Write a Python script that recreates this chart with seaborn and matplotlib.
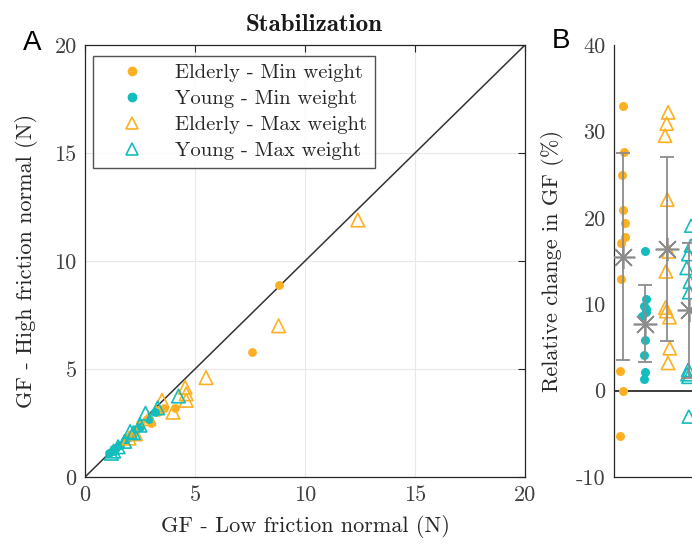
import numpy as np
import pandas as pd
import matplotlib
matplotlib.use("Agg")
import matplotlib.pyplot as plt
from matplotlib.lines import Line2D
import seaborn as sns

groups = ["Elderly - Min weight", "Young - Min weight",
          "Elderly - Max weight", "Young - Max weight"]

# Grip force (N): low friction vs high friction surface
elderly_min_low = [8.8, 7.6, 4.1, 3.6, 3.3, 3.0, 2.8, 2.5, 2.2, 1.9, 1.6]
elderly_min_high = [8.9, 5.8, 3.2, 3.2, 3.0, 2.5, 2.7, 2.5, 2.0, 1.8, 1.5]
young_min_low = [1.1, 1.3, 1.4, 1.6, 1.8, 2.0, 2.3, 2.5, 2.9, 3.2]
young_min_high = [1.1, 1.2, 1.35, 1.5, 1.7, 1.85, 2.2, 2.3, 2.7, 3.0]
elderly_max_low = [12.4, 8.8, 5.5, 4.55, 4.6, 4.6, 3.5, 4.0, 2.9, 2.3, 2.0]
elderly_max_high = [11.9, 7.0, 4.6, 4.15, 3.85, 3.55, 3.55, 3.0, 2.7, 2.0, 1.8]
young_max_low = [4.25, 3.3, 2.75, 2.5, 2.05, 2.2, 1.8, 1.5, 1.3, 1.2]
young_max_high = [3.75, 3.2, 2.95, 2.4, 2.1, 2.05, 1.65, 1.4, 1.2, 1.1]

# Relative change in grip force (%)
elderly_min_change = [32.9, 27.6, 24.9, 20.9, 19.4, 17.8, 17.1, 12.9, 2.3, 0.0, -5.2]
young_min_change = [16.2, 10.6, 9.8, 9.5, 9.1, 8.6, 5.9, 4.1, 2.1, 1.3]
elderly_max_change = [32.2, 30.9, 29.5, 22.1, 16.1, 13.8, 9.6, 9.2, 8.5, 4.9, 3.2]
young_max_change = [19.1, 16.8, 15.8, 14.2, 12.6, 11.4, 2.4, 1.9, 1.6, -3.0]

xticks_a = [0, 5, 10, 15, 20]
yticks_b = [-10, 0, 10, 20, 30, 40]

ORANGE = "#FDB022"
CYAN = "#14BDBD"
GRAY = "#8C8C8C"

sns.set_theme(style="white")
plt.rcParams["font.family"] = ["cmr10", "DejaVu Serif"]
plt.rcParams["axes.unicode_minus"] = False
plt.rcParams["axes.formatter.use_mathtext"] = False

FS = 16

fig = plt.figure(figsize=(6.92, 5.44), dpi=100)
W, H = 692.0, 544.0
axA = fig.add_axes([85 / W, 67 / H, 440 / W, 432 / H])
axB = fig.add_axes([614 / W, 67 / H, 176 / W, 432 / H])

# ---- Panel A: high vs low friction grip force ----
series = [
    (elderly_min_low, elderly_min_high, ORANGE, "o", True),
    (young_min_low, young_min_high, CYAN, "o", True),
    (elderly_max_low, elderly_max_high, ORANGE, "^", False),
    (young_max_low, young_max_high, CYAN, "^", False),
]
axA.plot([0, 20], [0, 20], color="#333333", lw=1.1, zorder=1)
for (lo, hi, col, mk, filled), name in zip(series, groups):
    df = pd.DataFrame({"low": lo, "high": hi})
    n0 = len(axA.collections)
    if filled:
        sns.scatterplot(data=df, x="low", y="high", ax=axA, color=col,
                        marker=mk, s=40, linewidth=0, zorder=3)
    else:
        sns.scatterplot(data=df, x="low", y="high", ax=axA, color=col,
                        marker=mk, s=95, linewidth=1.2, zorder=3)
        for coll in axA.collections[n0:]:
            coll.set_facecolor("none")
            coll.set_edgecolor(col)

axA.set_xlim(0, 20)
axA.set_ylim(0, 20)
axA.set_xticks(xticks_a)
axA.set_yticks(xticks_a)
axA.grid(True, color="#E8E8E8", lw=0.8)
axA.set_axisbelow(True)
for sp in axA.spines.values():
    sp.set_visible(True)
    sp.set_color("#262626")
    sp.set_linewidth(0.9)
axA.tick_params(direction="in", length=5, width=0.8, colors="#262626",
                labelsize=FS, top=True, right=True, labelcolor="#404040",
                pad=6)
axA.set_xlabel("GF - Low friction normal (N)", fontsize=FS, color="#262626", labelpad=7)
axA.set_ylabel("GF - High friction normal (N)", fontsize=FS, color="#262626", labelpad=12)
axA.set_title("Stabilization", fontfamily="cmb10", fontsize=18, pad=10,
              color="#1a1a1a", x=0.52)

handles = [
    Line2D([], [], ls="none", marker="o", ms=6, mfc=ORANGE, mec=ORANGE),
    Line2D([], [], ls="none", marker="o", ms=6, mfc=CYAN, mec=CYAN),
    Line2D([], [], ls="none", marker="^", ms=8.5, mfc="none", mec=ORANGE, mew=1.2),
    Line2D([], [], ls="none", marker="^", ms=8.5, mfc="none", mec=CYAN, mew=1.2),
]
leg = axA.legend(handles, groups, loc="upper left", bbox_to_anchor=(0.018, 0.975),
                 borderaxespad=0, fontsize=14.8, frameon=True, fancybox=False,
                 handlelength=3.0, handletextpad=0.6, borderpad=0.4,
                 labelspacing=0.36)
leg.get_frame().set_edgecolor("#262626")
leg.get_frame().set_linewidth(1.0)
for t in leg.get_texts():
    t.set_color("#262626")

# ---- Panel B: relative change per participant, mean +/- SD ----
changes = [elderly_min_change, young_min_change, elderly_max_change, young_max_change]
long = pd.concat(
    [pd.DataFrame({"group": g, "change": v}) for g, v in zip(groups, changes)],
    ignore_index=True)

axB.axhline(0, color="#1a1a1a", lw=1.2, zorder=1)
np.random.seed(3)
for i, (g, col, mk, filled) in enumerate(zip(groups, [ORANGE, CYAN, ORANGE, CYAN],
                                             ["o", "o", "^", "^"],
                                             [True, True, False, False])):
    sub = long[long["group"] == g]
    n0 = len(axB.collections)
    if filled:
        sns.stripplot(data=sub, x="group", y="change", order=groups, ax=axB,
                      color=col, marker=mk, size=6.5, linewidth=0, jitter=0.13,
                      zorder=3)
    else:
        sns.stripplot(data=sub, x="group", y="change", order=groups, ax=axB,
                      color=col, marker=mk, size=9.5, linewidth=1.2, jitter=0.13,
                      zorder=3)
        for coll in axB.collections[n0:]:
            coll.set_facecolor("none")
            coll.set_edgecolor(col)

means = [np.mean(v) for v in changes]
sds = [np.std(v, ddof=1) for v in changes]
pos = np.arange(len(groups))
axB.errorbar(pos, means, yerr=sds, fmt="none", ecolor=GRAY, elinewidth=1.3,
             capsize=5, capthick=1.3, zorder=4)
axB.plot(pos, means, ls="none", marker=(8, 2, 0), ms=17, mec=GRAY, mew=1.2,
         zorder=5)

axB.set_xlim(-0.41, 7.59)
axB.set_ylim(-10, 40)
axB.set_yticks(yticks_b)
axB.set_xticks([])
axB.set_xlabel("")
axB.grid(False)
axB.spines["top"].set_visible(False)
axB.spines["right"].set_visible(False)
for s in ("left", "bottom"):
    axB.spines[s].set_color("#262626")
    axB.spines[s].set_linewidth(0.9)
axB.tick_params(axis="y", direction="in", length=5, width=0.8, colors="#262626",
                labelsize=FS, labelcolor="#404040", pad=6)
axB.set_ylabel("Relative change in GF (%)", fontsize=FS, color="#262626", labelpad=9)

# panel letters
fig.text(32 / W, 1 - 50 / H, "A", fontfamily="Liberation Sans", fontsize=20,
         ha="center", va="baseline", color="black")
fig.text(561 / W, 1 - 48 / H, "B", fontfamily="Liberation Sans", fontsize=20,
         ha="center", va="baseline", color="black")

fig.savefig("out.png", dpi=100)
